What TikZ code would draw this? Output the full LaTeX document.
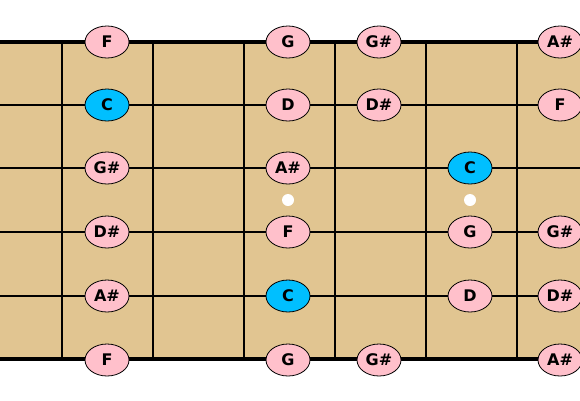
\documentclass[tikz,border=0pt]{standalone}
\usepackage{fontspec}
\setmainfont{DejaVu Sans}
\definecolor{board}{HTML}{E1C591}
\definecolor{notepink}{HTML}{FFC0CB}
\definecolor{noteblue}{HTML}{00BFFF}
\tikzset{
  note/.style={ellipse, draw=black, line width=0.8pt, fill=notepink, minimum width=44pt, minimum height=32pt, inner sep=0pt, font=\fontsize{16}{17}\selectfont\bfseries},
  root/.style={note, fill=noteblue},
  fretline/.style={line width=2pt, black},
  stringline/.style={line width=2pt, black},
  edgestring/.style={line width=4pt, black},
  inlay/.style={circle, fill=white, inner sep=0pt, minimum size=12pt}
}
\usetikzlibrary{shapes.geometric}
\begin{document}
\begin{tikzpicture}[x=1pt,y=-1pt]
\useasboundingbox (0,0) rectangle (580,400);
\clip (0,0) rectangle (580,400);
\fill[board] (0,42) rectangle (580,359);
% frets
\foreach \x in {62,153,244,335,426,517} \draw[fretline] (\x,42) -- (\x,359);
% strings
\foreach \y in {105,168,232,296} \draw[stringline] (0,\y) -- (580,\y);
\draw[edgestring] (0,42) -- (580,42);
\draw[edgestring] (0,359) -- (580,359);
% inlays
\node[inlay] (d1) at (288,200) {};
\node[inlay] (d2) at (470,200) {};
% notes
\node[note] (a1) at (107,42) {F};
\node[note] (a2) at (288,42) {G};
\node[note] (a3) at (379,42) {G\#};
\node[note] (a4) at (560,42) {A\#};
\node[root] (b1) at (107,105) {C};
\node[note] (b2) at (288,105) {D};
\node[note] (b3) at (379,105) {D\#};
\node[note] (b4) at (560,105) {F};
\node[note] (c1) at (107,168) {G\#};
\node[note] (c2) at (288,168) {A\#};
\node[root] (c3) at (470,168) {C};
\node[note] (e1) at (107,232) {D\#};
\node[note] (e2) at (288,232) {F};
\node[note] (e3) at (470,232) {G};
\node[note] (e4) at (560,232) {G\#};
\node[note] (f1) at (107,296) {A\#};
\node[root] (f2) at (288,296) {C};
\node[note] (f3) at (470,296) {D};
\node[note] (f4) at (560,296) {D\#};
\node[note] (g1) at (107,360) {F};
\node[note] (g2) at (288,360) {G};
\node[note] (g3) at (379,360) {G\#};
\node[note] (g4) at (560,360) {A\#};
\end{tikzpicture}
\end{document}
